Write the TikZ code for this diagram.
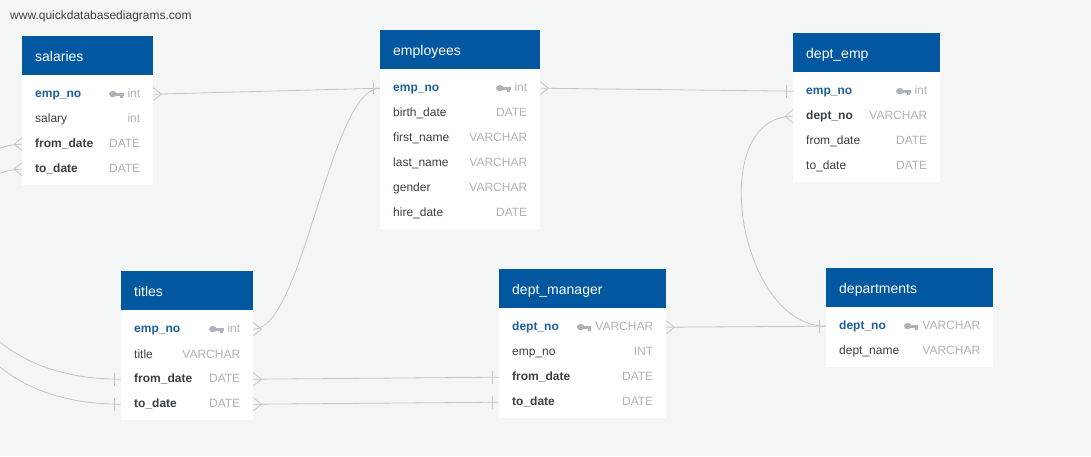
\documentclass[tikz,border=0pt]{standalone}
\usepackage{fontspec}
\setmainfont{Liberation Sans}
\definecolor{bggray}{RGB}{244,245,245}
\definecolor{hdrblue}{RGB}{1,88,160}
\definecolor{keyblue}{RGB}{27,96,163}
\definecolor{namegray}{RGB}{58,64,70}
\definecolor{typegray}{RGB}{174,179,185}
\definecolor{linkgray}{RGB}{196,198,198}
\newcommand{\pk}[1]{{\color{keyblue}\bfseries #1}}
\newcommand{\fk}[1]{{\bfseries #1}}
\newcommand{\ty}[1]{{\color{typegray}#1}}
\newcommand{\pkey}{\tikz[baseline=-3.2pt,x=1pt,y=1pt]{%
  \fill[typegray] (3.8,0) ellipse (3.8 and 3.2);
  \fill[typegray] (5,-1.4) rectangle (14.5,1.4);
  \fill[typegray] (11.2,-1.4) rectangle (13.6,-3.6);}}
\tikzset{
  hdr/.style={anchor=north west, fill=hdrblue, text=white, minimum height=39pt,
    inner xsep=13pt, inner ysep=0pt, text width=#1, text height=12pt, text depth=1pt,
    font=\fontsize{14}{16}\selectfont},
  fld/.style={anchor=north west, minimum height=25pt, inner xsep=13pt, inner ysep=0pt,
    yshift=-1.5pt, text width=#1, text=namegray, font=\fontsize{12}{14}\selectfont},
  link/.style={draw=linkgray, line width=0.8pt},
  crowr/.pic={\draw[link] (0,-6.5) -- (8,0) -- (0,6.5);},
  crowl/.pic={\draw[link] (0,-6.5) -- (-8,0) -- (0,6.5);},
  barl/.pic={\draw[link] (-6.5,-6.5) -- (-6.5,6.5);}
}
\begin{document}
\begin{tikzpicture}[x=1pt,y=-1pt]
    \fill[bggray] (0,0) rectangle (1091,456);
    \clip (0,0) rectangle (1091,456);
    \node[anchor=west, inner sep=0pt, text=namegray, font=\fontsize{12}{14}\selectfont] (url) at (10,16) {www.quickdatabasediagrams.com};

    % salaries
    \fill[white] (22,75) rectangle +(131,110);
    \node[hdr=105pt] (sal) at (22,36) {salaries};
    \node[fld=105pt] (sal-emp) at (22,80) {\pk{emp\_no}\hfill\pkey\ \ty{int}};
    \node[fld=105pt] (sal-sal) at (22,105) {salary\hfill\ty{int}};
    \node[fld=105pt] (sal-from) at (22,130) {\fk{from\_date}\hfill\ty{DATE}};
    \node[fld=105pt] (sal-to) at (22,155) {\fk{to\_date}\hfill\ty{DATE}};

    % employees
    \fill[white] (380,69) rectangle +(160,160);
    \node[hdr=134pt] (emp) at (380,30) {employees};
    \node[fld=134pt] (emp-emp) at (380,74) {\pk{emp\_no}\hfill\pkey\ \ty{int}};
    \node[fld=134pt] (emp-birth) at (380,99) {birth\_date\hfill\ty{DATE}};
    \node[fld=134pt] (emp-first) at (380,124) {first\_name\hfill\ty{VARCHAR}};
    \node[fld=134pt] (emp-last) at (380,149) {last\_name\hfill\ty{VARCHAR}};
    \node[fld=134pt] (emp-gen) at (380,174) {gender\hfill\ty{VARCHAR}};
    \node[fld=134pt] (emp-hire) at (380,199) {hire\_date\hfill\ty{DATE}};

    % dept_emp
    \fill[white] (793,72) rectangle +(147,110);
    \node[hdr=121pt] (de) at (793,33) {dept\_emp};
    \node[fld=121pt] (de-emp) at (793,77) {\pk{emp\_no}\hfill\pkey\ \ty{int}};
    \node[fld=121pt] (de-dept) at (793,102) {\fk{dept\_no}\hfill\ty{VARCHAR}};
    \node[fld=121pt] (de-from) at (793,127) {from\_date\hfill\ty{DATE}};
    \node[fld=121pt] (de-to) at (793,152) {to\_date\hfill\ty{DATE}};

    % titles
    \fill[white] (121,310) rectangle +(132,110);
    \node[hdr=106pt] (ti) at (121,271) {titles};
    \node[fld=106pt] (ti-emp) at (121,315) {\pk{emp\_no}\hfill\pkey\ \ty{int}};
    \node[fld=106pt] (ti-title) at (121,340) {title\hfill\ty{VARCHAR}};
    \node[fld=106pt] (ti-from) at (121,365) {\fk{from\_date}\hfill\ty{DATE}};
    \node[fld=106pt] (ti-to) at (121,390) {\fk{to\_date}\hfill\ty{DATE}};

    % dept_manager
    \fill[white] (499,308) rectangle +(167,110);
    \node[hdr=141pt] (dm) at (499,269) {dept\_manager};
    \node[fld=141pt] (dm-dept) at (499,313) {\pk{dept\_no}\hfill\pkey\ \ty{VARCHAR}};
    \node[fld=141pt] (dm-emp) at (499,338) {emp\_no\hfill\ty{INT}};
    \node[fld=141pt] (dm-from) at (499,363) {\fk{from\_date}\hfill\ty{DATE}};
    \node[fld=141pt] (dm-to) at (499,388) {\fk{to\_date}\hfill\ty{DATE}};

    % departments
    \fill[white] (826,307) rectangle +(167,60);
    \node[hdr=141pt] (dep) at (826,268) {departments};
    \node[fld=141pt] (dep-dept) at (826,312) {\pk{dept\_no}\hfill\pkey\ \ty{VARCHAR}};
    \node[fld=141pt] (dep-name) at (826,337) {dept\_name\hfill\ty{VARCHAR}};

    % links
    \draw[link] (sal-emp.east) -- (emp-emp.west);
    \draw[link] (ti-emp.east) .. controls +(50,0) and +(-50,0) .. (emp-emp.west);
    \draw[link] (emp-emp.east) -- (de-emp.west);
    \draw[link] (de-dept.west) .. controls +(-88,0) and +(-88,0) .. (dep-dept.west);
    \draw[link] (dm-dept.east) -- (dep-dept.west);
    \draw[link] (ti-from.east) -- (dm-from.west);
    \draw[link] (ti-to.east) -- (dm-to.west);
    \draw[link] (sal-from.west) .. controls +(-102,0) and +(-215,0) .. (ti-from.west);
    \draw[link] (sal-to.west) .. controls +(-102,0) and +(-215,0) .. (ti-to.west);

    \pic at (sal-emp.east) {crowr};
    \pic at (ti-emp.east) {crowr};
    \pic at (emp-emp.west) {barl};
    \pic at (emp-emp.east) {crowr};
    \pic at (de-emp.west) {barl};
    \pic at (de-dept.west) {crowl};
    \pic at (dm-dept.east) {crowr};
    \pic at (dep-dept.west) {barl};
    \pic at (ti-from.east) {crowr};
    \pic at (dm-from.west) {barl};
    \pic at (ti-to.east) {crowr};
    \pic at (dm-to.west) {barl};
    \pic at (sal-from.west) {crowl};
    \pic at (ti-from.west) {barl};
    \pic at (sal-to.west) {crowl};
    \pic at (ti-to.west) {barl};
\end{tikzpicture}
\end{document}
